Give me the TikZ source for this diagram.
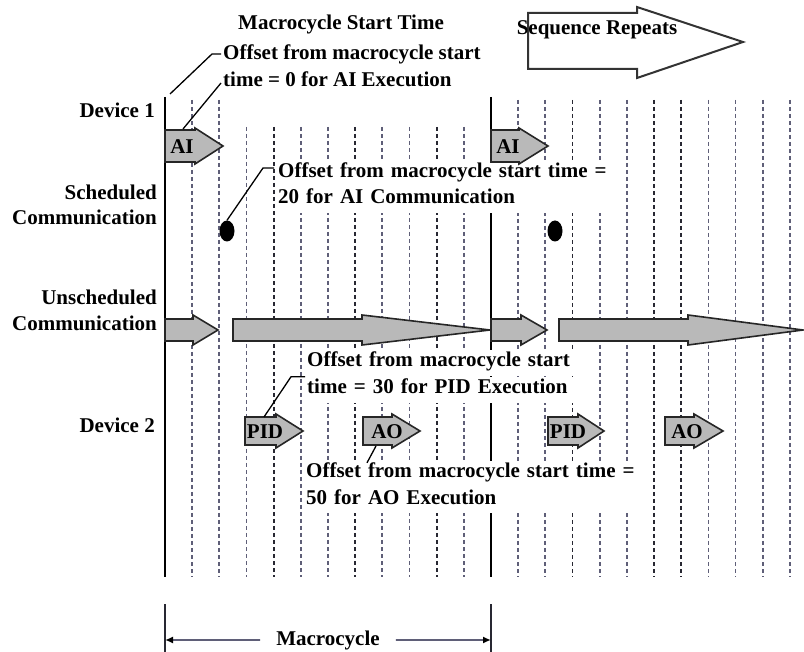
\documentclass[tikz,border=0pt]{standalone}
\usepackage{fontspec}
\setmainfont{Liberation Serif}
\usetikzlibrary{calc,arrows.meta,shapes.geometric}
\definecolor{gridA}{RGB}{95,95,120}
\definecolor{gridB}{RGB}{40,40,50}
\definecolor{blockfill}{RGB}{185,185,185}
\tikzset{
 lbl/.style={font=\fontsize{21}{26}\selectfont\bfseries, inner sep=0pt},
 ann/.style={lbl, fill=white, anchor=base west, inner xsep=2pt, inner ysep=3pt, text height=14pt, text depth=6pt, align=left},
 rowlbl/.style={lbl, anchor=base east},
 gridline/.style={line width=1.8pt, dash pattern=on 4pt off 3pt, draw=gridA},
 gridlinedark/.style={gridline, draw=gridB},
 axisline/.style={line width=2.2pt, draw=black},
 blockarrow/.style={draw=black!85, line width=1.6pt, fill=blockfill, line join=miter},
 leader/.style={draw=black, line width=1.3pt},
 bigarrow/.style={draw=black!80, line width=2pt, fill=white, line join=miter},
 blob/.style={ellipse, fill=black, minimum width=15pt, minimum height=21pt, inner sep=0pt},
}
\newcommand\blkarrow[6]{%
  \draw[blockarrow] (#1,{#4-#5}) -- (#2,{#4-#5}) -- (#2,{#4-#6}) -- (#3,#4) -- (#2,{#4+#6}) -- (#2,{#4+#5}) -- (#1,{#4+#5}) -- cycle;}
\begin{document}
\begin{tikzpicture}[x=1pt,y=-1pt]
\useasboundingbox (0,0) rectangle (804,652);
% time grid
\foreach \k in {1,2,13,14,16,17,20,21,22,23}
  \draw[gridline] ({165+27.17*\k},100) -- ({165+27.17*\k},577);
\foreach \k in {3,5,6,8,9,11}
  \draw[gridline] ({165+27.17*\k},127) -- ({165+27.17*\k},577);
\foreach \k in {4,7,10}
  \draw[gridlinedark] ({165+27.17*\k},127) -- ({165+27.17*\k},577);
\foreach \k in {15,18,19}
  \draw[gridlinedark] ({165+27.17*\k},100) -- ({165+27.17*\k},577);
\draw[axisline] (165,97) -- (165,577);
\draw[axisline] (491,97) -- (491,577);
% annotation labels
\node[ann] (offA1) at (221,60) {Offset from macrocycle start};
\node[ann] (offA2) at (221,87) {time = 0 for AI Execution};
\node[ann, text width=330pt] (offB1) at (276,178) {Offset from macrocycle start time =};
\node[ann, text width=330pt] (offB2) at (276,204) {20 for AI Communication};
\node[ann, text width=266pt] (offC1) at (305,367) {Offset from macrocycle start};
\node[ann, text width=266pt] (offC2) at (305,394) {time = 30 for PID Execution};
\node[ann, text width=330pt] (offD1) at (304,478) {Offset from macrocycle start time =};
\node[ann, text width=330pt] (offD2) at (304,504) {50 for AO Execution};
% row labels
\node[rowlbl] (dev1) at (155,118) {Device 1};
\node[rowlbl] (sch1) at (157,200) {Scheduled};
\node[rowlbl] (sch2) at (157,225) {Communication};
\node[rowlbl] (uns1) at (157,305) {Unscheduled};
\node[rowlbl] (uns2) at (157,331) {Communication};
\node[rowlbl] (dev2) at (155,433) {Device 2};
% titles
\node[lbl, anchor=base] (title) at (341,30) {Macrocycle Start Time};
\draw[bigarrow] (528,13) -- (637,13) -- (637,7) -- (743,42) -- (637,78) -- (637,69) -- (528,69) -- cycle;
\node[lbl, anchor=base] (seq) at (597,35) {Sequence Repeats};
% device 1
\blkarrow{165}{195}{223}{146}{16}{18}
\node[lbl] (ai1) at (182,147) {AI};
\blkarrow{491}{519}{548}{146}{16}{18}
\node[lbl] (ai2) at (508,147) {AI};
% scheduled communication
\node[blob] (dot1) at (227,231) {};
\node[blob] (dot2) at (555,231) {};
% unscheduled communication
\blkarrow{165}{193}{218}{330}{11}{15}
\blkarrow{233}{362}{490}{330}{11}{15}
\blkarrow{491}{521}{547}{330}{11}{15}
\blkarrow{559}{688}{803}{330}{11}{15}
% device 2
\blkarrow{245}{276}{303}{431}{14}{17}
\node[lbl] (pid1) at (265,432) {PID};
\blkarrow{363}{392}{420}{431}{14}{17}
\node[lbl] (ao1) at (387,432) {AO};
\blkarrow{548}{578}{604}{431}{14}{17}
\node[lbl] (pid2) at (568,432) {PID};
\blkarrow{665}{694}{723}{431}{14}{17}
\node[lbl] (ao2) at (687,432) {AO};
% leaders
\coordinate (l1s) at (170,94);
\coordinate (l2s) at (183,129);
\coordinate (l4s) at (264,417);
\coordinate (l5s) at (376,446);
\draw[leader] (l1s) -- ($(offA1.west)+(-9,-2)$) -- ($(offA1.west)+(0,-2)$);
\draw[leader] (l2s) -- (offA2.west);
\draw[leader] (dot1.north) -- ($(offB1.west)+(-13,-6)$) -- ($(offB1.west)+(-2,-6)$);
\draw[leader] (l4s) -- ($(offC2.north west)+(-14,0)$) -- (offC2.north west);
\draw[leader] (l5s) -- ($(offD1.north west)+(63,2)$);
% macrocycle span
\coordinate (tl) at (165,640);
\coordinate (tr) at (491,640);
\draw[line width=2pt, draw=gridB] (165,604) -- (165,652);
\draw[line width=2pt, draw=gridB] (491,604) -- (491,652);
\node[lbl, anchor=base, inner xsep=16pt] (mc) at (328,645) {Macrocycle};
\draw[line width=1.6pt, draw=gridA, -{Latex[length=8pt,width=7pt,color=black]}] (mc.west) -- (tl);
\draw[line width=1.6pt, draw=gridA, -{Latex[length=8pt,width=7pt,color=black]}] (mc.east) -- (tr);
\end{tikzpicture}
\end{document}
